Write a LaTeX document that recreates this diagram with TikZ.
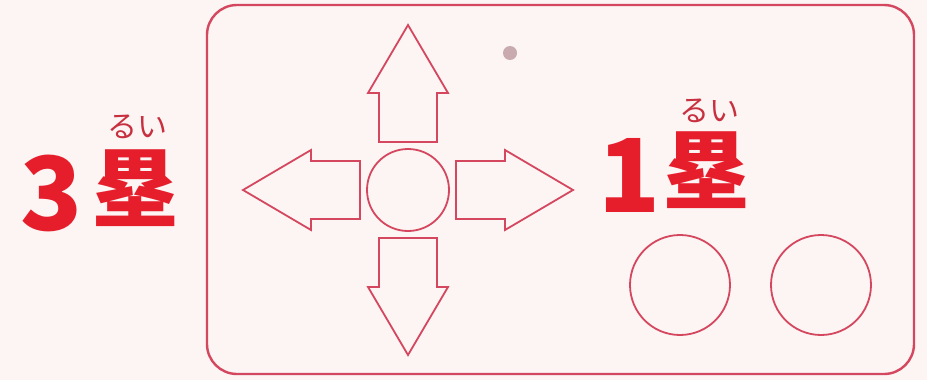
\documentclass[tikz,border=0pt]{standalone}
\usepackage{fontspec}
\newfontfamily\cjk{Noto Sans CJK JP}
\definecolor{bg}{HTML}{FCF5F4}
\definecolor{txtred}{HTML}{E61E2C}
\definecolor{rubyred}{HTML}{C8303F}
\definecolor{linered}{HTML}{D4475F}
\definecolor{dotgrey}{HTML}{C9AAAE}
\tikzset{
  outline/.style={draw=linered, line width=1.8pt, line join=miter},
  btn/.style={circle, draw=linered, line width=1.8pt, inner sep=0pt},
  big/.style={inner sep=0pt, text=txtred, font=\cjk\bfseries\fontsize{86}{86}\selectfont},
  digit/.style={inner sep=0pt, text=txtred, font=\cjk\bfseries\fontsize{102}{102}\selectfont},
  ruby/.style={inner sep=0pt, text=rubyred, font=\cjk\fontsize{30}{30}\selectfont},
}
\begin{document}
\begin{tikzpicture}[x=1pt,y=-1pt]
\fill[bg] (0,0) rectangle (927,380);
\useasboundingbox (0,0) rectangle (927,380);
% panel
\draw[draw=linered, line width=2.4pt, rounded corners=30pt] (207,5) rectangle (914,374);
% dot
\fill[dotgrey] (510,53) circle (7);
% centre button
\node[btn, minimum size=82pt] (ctr) at (408,190) {};
% four arrows
\foreach \ang in {0,90,180,270}{
  \begin{scope}[shift={(408,190)}, rotate=\ang]
    \draw[outline] (-29,-48) -- (-29,-97) -- (-40,-97) -- (0,-165) -- (40,-97) -- (29,-97) -- (29,-48) -- cycle;
  \end{scope}
}
% A/B buttons
\node[btn, minimum size=100pt] (b1) at (680,285) {};
\node[btn, minimum size=100pt] (b2) at (821,285) {};
% labels
\node[digit, anchor=base] (n3) at (52,230) {3};
\node[big, anchor=base] (k3) at (135,220) {塁};
\node[ruby, anchor=base] (r3) at (137,137) {るい};
\node[digit, anchor=base] (n1) at (630,212) {1};
\node[big, anchor=base] (k1) at (706,202) {塁};
\node[ruby, anchor=base] (r1) at (709,121) {るい};
\end{tikzpicture}
\end{document}
